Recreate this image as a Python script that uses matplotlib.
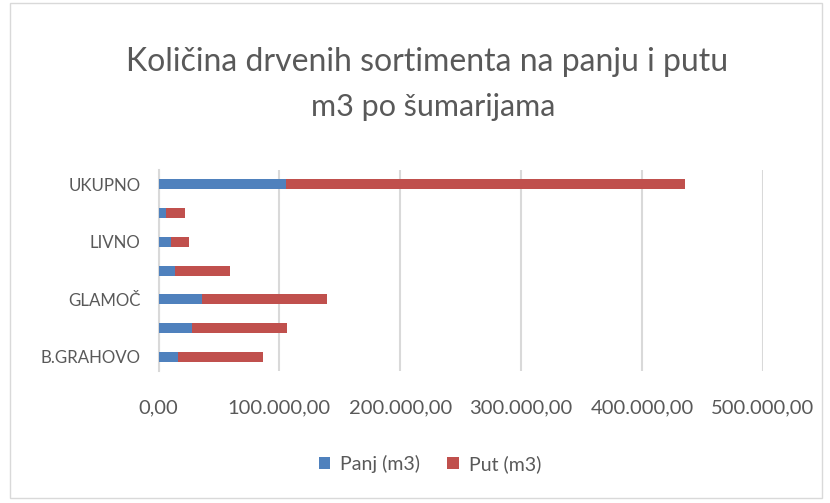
import matplotlib.pyplot as plt
from matplotlib.patches import Rectangle
from matplotlib.ticker import FuncFormatter

# šumarije (odozdo prema gore) i količine u m3
sumarije = ["B.GRAHOVO", "DRVAR", "GLAMOČ", "KUPRES", "LIVNO", "TOMISLAVGRAD", "UKUPNO"]
panj = [15700, 27800, 35800, 13900, 10000, 6200, 105600]
put = [71000, 78700, 103200, 45300, 15400, 15400, 330400]

plt.rcParams["font.family"] = ["Lato", "DejaVu Sans"]
siva = "#595959"

fig = plt.figure(figsize=(8.3, 5.03), dpi=100)
ax = fig.add_axes([0.191, 0.262, 0.728, 0.400])

y = range(len(sumarije))
ax.barh(y, panj, height=0.35, color="#4F81BD", label="Panj (m3)", zorder=3)
ax.barh(y, put, left=panj, height=0.35, color="#C0504D", label="Put (m3)", zorder=3)

ax.set_xlim(0, 500000)
ax.set_ylim(-0.5, len(sumarije) - 0.5)
ax.set_xticks([0, 100000, 200000, 300000, 400000, 500000])


def fmt(v, pos):
    s = f"{v:,.2f}"
    return s.replace(",", "X").replace(".", ",").replace("X", ".")


ax.xaxis.set_major_formatter(FuncFormatter(fmt))
# samo svaka druga oznaka kategorije stane na os
ax.set_yticks(list(y))
ax.set_yticklabels([s if i % 2 == 0 else "" for i, s in enumerate(sumarije)],
                   fontsize=12.2)

ax.grid(axis="x", color="#d9d9d9", linewidth=1.5, zorder=0)
ax.tick_params(axis="both", length=0, colors=siva)
ax.tick_params(axis="x", pad=20, labelsize=14.5)
ax.tick_params(axis="y", pad=13)
for s in ["top", "right", "bottom"]:
    ax.spines[s].set_visible(False)
ax.spines["left"].set_color("#d9d9d9")
ax.spines["left"].set_linewidth(1.5)

fig.text(0.515, 0.877, "Količina drvenih sortimenta na panju i putu", ha="center",
         va="center", fontsize=23, color=siva)
fig.text(0.522, 0.788, "m3 po šumarijama", ha="center", va="center",
         fontsize=22, color=siva)

fig.legend(loc="center", bbox_to_anchor=(0.518, 0.078), ncol=2, frameon=False,
           fontsize=14, labelcolor=siva, handlelength=0.6, handleheight=0.6,
           columnspacing=1.4, handletextpad=0.5)

# okvir grafikona
fig.patches.append(Rectangle((0.012, 0.01), 0.978, 0.985, transform=fig.transFigure,
                             fill=False, edgecolor="#d9d9d9", linewidth=1))

fig.savefig("out.png", dpi=100)
